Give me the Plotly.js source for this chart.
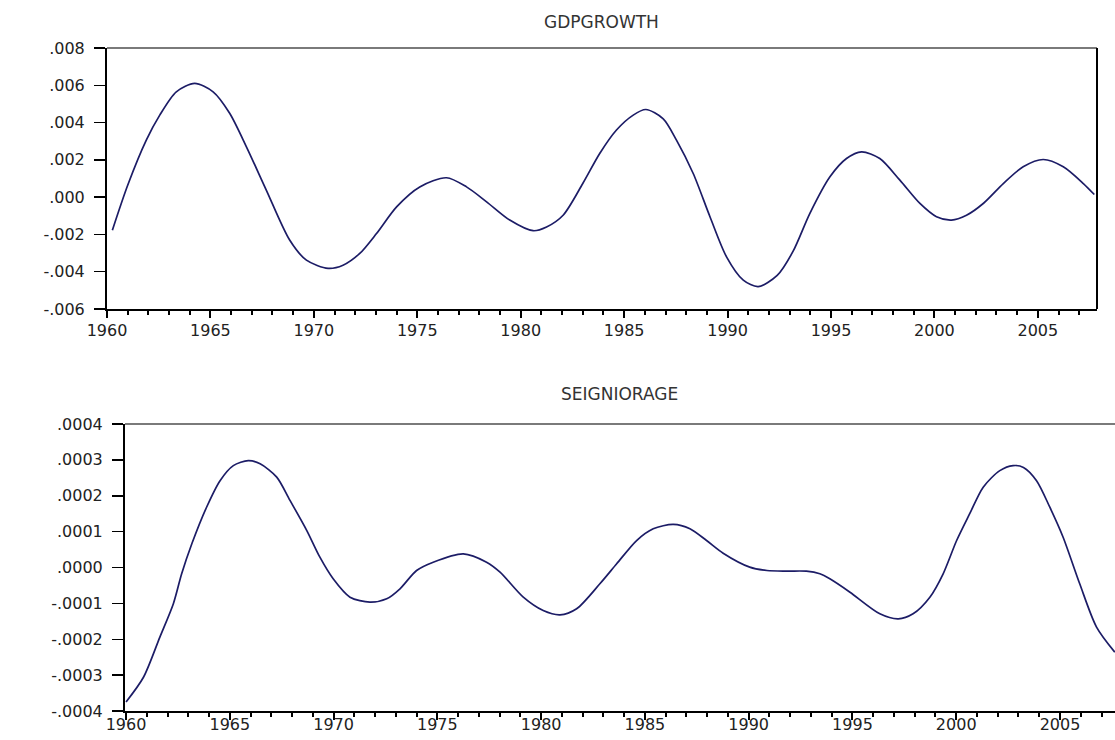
<!DOCTYPE html>
<html>
<head>
<meta charset="utf-8">
<script src="https://cdn.plot.ly/plotly-3.0.1.min.js"></script>
<style>html,body{margin:0;padding:0;background:#fff;}#chart{width:1115px;height:740px;}</style>
</head>
<body>
<div id="chart"></div>
<script>
// GDPGROWTH series (year, value)
var gdpYears = [1960.26,1961.0,1961.9,1962.55,1963.35,1964.24,1965.13,1965.93,1966.74,1967.7,1968.83,1969.64,1970.69,1971.41,1972.22,1973.03,1974.0,1975.12,1976.41,1977.38,1978.35,1979.47,1980.6,1981.25,1982.05,1983.0,1983.82,1984.63,1985.44,1986.05,1986.89,1987.53,1988.34,1989.15,1989.95,1990.76,1991.48,1992.4,1993.17,1993.98,1994.95,1995.75,1996.48,1997.36,1998.33,1999.3,2000.1,2000.83,2001.55,2002.36,2003.33,2004.29,2005.26,2006.23,2007.2,2007.73];
var gdpValues = [-0.00177,0.00064,0.00306,0.0044,0.00565,0.0061,0.00565,0.0045,0.0027,0.00038,-0.0023,-0.00338,-0.00382,-0.00365,-0.00302,-0.00195,-0.00052,0.00055,0.00104,0.00055,-0.00025,-0.00123,-0.0018,-0.0016,-0.00097,0.00073,0.00234,0.0036,0.0044,0.0047,0.0042,0.00306,0.00127,-0.00105,-0.0032,-0.00445,-0.0048,-0.0042,-0.0029,-0.00087,0.00109,0.00207,0.00243,0.00207,0.00091,-0.00034,-0.00105,-0.00123,-0.00097,-0.00034,0.00073,0.00163,0.00202,0.00163,0.00073,0.00014];

// SEIGNIORAGE series (year, value)
var seiYears = [1960.0,1960.84,1961.63,1962.28,1962.68,1963.17,1963.88,1964.53,1965.17,1965.89,1966.46,1967.26,1967.9,1968.71,1969.34,1969.98,1970.79,1971.75,1972.56,1973.2,1974.0,1974.8,1976.25,1977.37,1978.02,1979.14,1980.1,1980.91,1981.71,1982.83,1983.64,1984.6,1985.4,1986.37,1987.17,1987.97,1988.77,1990.05,1990.88,1991.88,1992.78,1993.43,1993.91,1994.88,1996.32,1997.21,1997.92,1998.73,1999.37,2000.02,2000.65,2001.3,2002.1,2002.74,2003.24,2003.87,2004.51,2005.15,2005.95,2006.76,2007.64];
var seiValues = [-0.000375,-0.000306,-0.000194,-0.000101,-0.0000176,0.000066,0.000168,0.000242,0.000284,0.000298,0.000289,0.000252,0.000187,0.000103,0.0000287,-0.0000315,-0.0000827,-0.0000967,-0.0000872,-0.0000593,-0.0000084,0.0000148,0.000038,0.0000148,-0.000013,-0.0000827,-0.00012,-0.000132,-0.000115,-0.0000454,0.0000103,0.0000752,0.000108,0.00012,0.000108,0.0000752,0.0000398,0.000001,-0.0000084,-0.00001,-0.0000103,-0.0000175,-0.0000315,-0.0000688,-0.000129,-0.000143,-0.000129,-0.0000827,-0.0000175,0.0000752,0.00015,0.000224,0.00027,0.000284,0.000279,0.000242,0.000168,0.0000844,-0.0000454,-0.000166,-0.000236];

// Tick labels
var gdpTickVals = [-0.006,-0.004,-0.002,0,0.002,0.004,0.006,0.008];
var gdpTickText = ['-.006','-.004','-.002','.000','.002','.004','.006','.008'];
var seiTickVals = [-0.0004,-0.0003,-0.0002,-0.0001,0,0.0001,0.0002,0.0003,0.0004];
var seiTickText = ['-.0004','-.0003','-.0002','-.0001','.0000','.0001','.0002','.0003','.0004'];
var titles = ['GDPGROWTH','SEIGNIORAGE'];

var W = 1115, H = 740;
var lineColor = '#1c1c66';
var tickFont = {family: 'DejaVu Sans', size: 16, color: '#222'};

var traces = [
  {x: gdpYears, y: gdpValues, xaxis: 'x', yaxis: 'y', type: 'scatter', mode: 'lines',
   line: {color: lineColor, width: 1.7, shape: 'spline', smoothing: 0.8}, hoverinfo: 'skip'},
  {x: seiYears, y: seiValues, xaxis: 'x2', yaxis: 'y2', type: 'scatter', mode: 'lines',
   line: {color: lineColor, width: 1.7, shape: 'spline', smoothing: 0.8}, hoverinfo: 'skip'}
];

function xAxis(domain, range, anchor, standoff) {
  return {
    domain: domain, range: range, anchor: anchor,
    showgrid: false, zeroline: false, showline: true, linecolor: '#000', linewidth: 2,
    ticks: 'outside', tick0: 1960, dtick: 5, ticklen: 7, tickwidth: 2, tickcolor: '#000',
    minor: {dtick: 1, tick0: 1960, ticks: 'outside', ticklen: 4, tickwidth: 2, tickcolor: '#000', showgrid: false},
    ticklabelstandoff: standoff,
    tickfont: tickFont, fixedrange: true
  };
}
function yAxis(domain, range, anchor, vals, text) {
  return {
    domain: domain, range: range, anchor: anchor,
    showgrid: false, zeroline: false, showline: true, linecolor: '#000', linewidth: 2,
    ticks: 'outside', ticklen: 11, tickwidth: 1.5, tickcolor: '#000',
    tickvals: vals, ticktext: text, ticklabelstandoff: 6,
    tickfont: tickFont, fixedrange: true
  };
}

var layout = {
  width: W, height: H,
  margin: {l: 0, r: 0, t: 0, b: 0},
  paper_bgcolor: '#fff', plot_bgcolor: '#fff',
  showlegend: false,
  xaxis: xAxis([107/W, 1097/W], [1960, 2007.86], 'y', -1),
  yaxis: yAxis([1 - 309/H, 1 - 48/H], [-0.006, 0.008], 'x', gdpTickVals, gdpTickText),
  xaxis2: xAxis([125/W, 1], [1959.95, 2007.65], 'y2', -9),
  yaxis2: yAxis([1 - 711/H, 1 - 424/H], [-0.0004, 0.0004], 'x2', seiTickVals, seiTickText),
  shapes: [
    {type: 'line', xref: 'x domain', yref: 'y domain', x0: 0, x1: 1, y0: 1, y1: 1, line: {color: '#7a7a7a', width: 2}},
    {type: 'line', xref: 'x domain', yref: 'y domain', x0: 1, x1: 1, y0: 0, y1: 1, line: {color: '#000', width: 2}},
    {type: 'line', xref: 'x2 domain', yref: 'y2 domain', x0: 0, x1: 1, y0: 1, y1: 1, line: {color: '#7a7a7a', width: 2}}
  ],
  annotations: [
    {text: titles[0], xref: 'paper', yref: 'paper', x: 601/W, y: 1 - 22/H, xanchor: 'center', yanchor: 'middle',
     showarrow: false, font: {family: 'DejaVu Sans', size: 17, color: '#333'}},
    {text: titles[1], xref: 'paper', yref: 'paper', x: 619/W, y: 1 - 394/H, xanchor: 'center', yanchor: 'middle',
     showarrow: false, font: {family: 'DejaVu Sans', size: 17, color: '#333'}}
  ]
};

Plotly.newPlot('chart', traces, layout, {staticPlot: true, displayModeBar: false});
</script>
</body>
</html>
